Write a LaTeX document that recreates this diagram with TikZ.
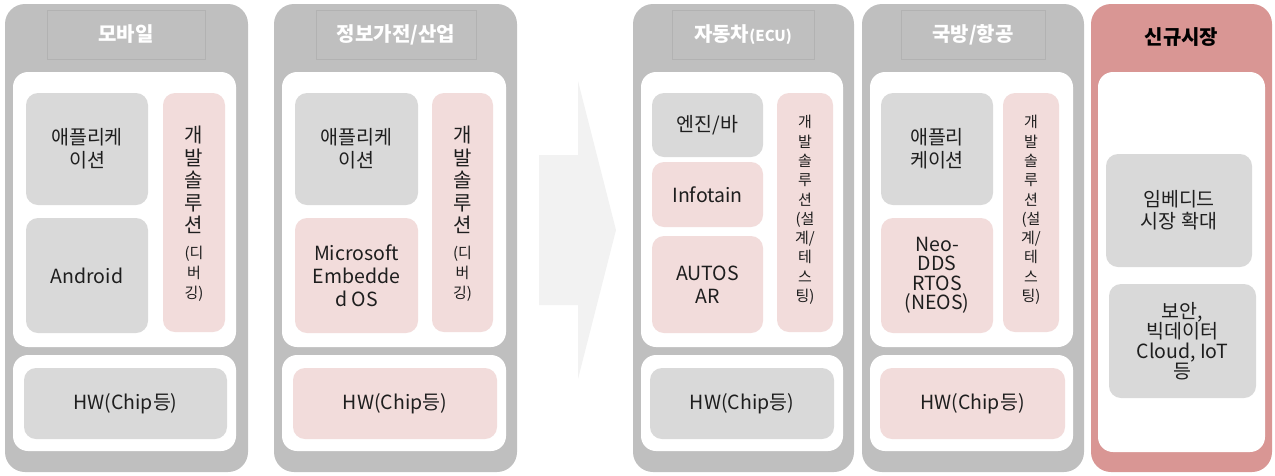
\documentclass[tikz,border=0pt]{standalone}
\usepackage{fontspec}
\setmainfont{Noto Sans CJK KR}
\definecolor{pgray}{HTML}{BFBFBF}
\definecolor{hborder}{HTML}{B2B2B2}
\definecolor{bgray}{HTML}{D9D9D9}
\definecolor{bpink}{HTML}{F2DCDB}
\definecolor{pred}{HTML}{D99694}
\definecolor{arrowc}{HTML}{F2F2F2}
\definecolor{txt}{HTML}{1E1E1E}
\newcommand\myMain{\fontsize{19.5}{23}\selectfont}
\newcommand\myTitle{\fontsize{20}{22}\selectfont\bfseries}
\newcommand\myBig{\fontsize{20}{22.5}\selectfont}
\newcommand\mySmall{\fontsize{15}{15}\selectfont}
\newcommand\myVert{\fontsize{15}{19.3}\selectfont}
\begin{document}
\begin{tikzpicture}[x=1pt,y=-1pt,
  sz/.style 2 args={minimum width=#1pt,minimum height=#2pt,inner sep=0pt,outer sep=0pt},
  panel/.style={fill=pgray,rounded corners=20pt},
  redpanel/.style={fill=pred,rounded corners=20pt},
  header/.style={fill=pgray,draw=hborder,line width=0.6pt,text=white,font=\myTitle},
  wbox/.style={fill=white,rounded corners=15pt},
  gbox/.style={fill=bgray,rounded corners=12pt,align=center,font=\myMain,text=txt},
  pbox/.style={fill=bpink,rounded corners=12pt,align=center,font=\myMain,text=txt},
  vtext/.style={align=center,text=txt,inner sep=0pt}
]
\useasboundingbox (0,0) rectangle (1275,475);

% ---------- Panel 1 : mobile ----------
\node[panel,sz={243}{468}] (p1) at (126.5,238) {};
\node[header,sz={158}{49}] (h1) at (126,34.5) {모바일};
\node[wbox,sz={223}{275}] (u1) at (124.5,209.5) {};
\node[gbox,sz={122}{112}] (a1) at (87,149) {애플리케\\이션};
\node[gbox,sz={122}{115}] (b1) at (87,275.5) {Android};
\node[pbox,sz={62}{239}] (d1) at (194,212.5) {};
\node[vtext,font=\myBig] (dt1) at (194,214) {개\\발\\솔\\루\\션\\[3.5pt]{\mySmall (디}\\[-2.5pt]{\mySmall 버}\\[-2.5pt]{\mySmall 깅)}};
\node[wbox,sz={223}{96}] (l1) at (124.5,403) {};
\node[gbox,sz={203}{71}] (hw1) at (125.5,403.5) {HW(Chip등)};

% ---------- Panel 2 : appliances / industry ----------
\node[panel,sz={243}{468}] (p2) at (395.5,238) {};
\node[header,sz={160}{49}] (h2) at (396,34.5) {정보가전/산업};
\node[wbox,sz={224}{275}] (u2) at (394,209.5) {};
\node[gbox,sz={123}{112}] (a2) at (356.5,149) {애플리케\\이션};
\node[pbox,sz={123}{115}] (b2) at (356.5,275.5) {Microsoft\\Embedde\\d OS};
\node[pbox,sz={61}{239}] (d2) at (462.5,212.5) {};
\node[vtext,font=\myBig] (dt2) at (462.5,214) {개\\발\\솔\\루\\션\\[3.5pt]{\mySmall (디}\\[-2.5pt]{\mySmall 버}\\[-2.5pt]{\mySmall 깅)}};
\node[wbox,sz={224}{96}] (l2) at (394,403) {};
\node[pbox,sz={204}{71}] (hw2) at (395,403.5) {HW(Chip등)};

% ---------- Arrow ----------
\fill[arrowc] (539,155) -- (578,155) -- (578,81) -- (616,230) -- (578,379) -- (578,305) -- (539,305) -- cycle;

% ---------- Panel 3 : automotive ----------
\node[panel,sz={221}{468}] (p3) at (743.5,238) {};
\node[header,sz={142}{49}] (h3) at (743,34.5) {자동차{\fontsize{15}{16}\selectfont\bfseries(ECU)}};
\node[wbox,sz={202}{275}] (u3) at (742,209.5) {};
\node[gbox,sz={111}{64}] (a3) at (707.5,125) {엔진/바};
\node[pbox,sz={111}{65}] (i3) at (707.5,194.5) {Infotain};
\node[pbox,sz={111}{97}] (s3) at (707.5,284.5) {AUTOS\\AR};
\node[pbox,sz={56}{239}] (d3) at (805,212.5) {};
\node[vtext,font=\myVert] (dt3) at (805,210) {개\\발\\솔\\루\\션\\(설\\계/\\테\\스\\팅)};
\node[wbox,sz={202}{96}] (l3) at (742,403) {};
\node[gbox,sz={184}{71}] (hw3) at (742,403.5) {HW(Chip등)};

% ---------- Panel 4 : defence / aerospace ----------
\node[panel,sz={222}{468}] (p4) at (973,238) {};
\node[header,sz={144}{49}] (h4) at (973,34.5) {국방/항공};
\node[wbox,sz={203}{275}] (u4) at (971.5,209.5) {};
\node[gbox,sz={112}{112}] (a4) at (937,149) {애플리\\케이션};
\node[pbox,sz={112}{115},font=\fontsize{19.5}{19.5}\selectfont] (n4) at (937,275.5) {Neo-\\DDS\\RTOS\\(NEOS)};
\node[pbox,sz={56}{239}] (d4) at (1031,212.5) {};
\node[vtext,font=\myVert] (dt4) at (1031,210) {개\\발\\솔\\루\\션\\(설\\계/\\테\\스\\팅)};
\node[wbox,sz={203}{96}] (l4) at (971.5,403) {};
\node[pbox,sz={185}{71}] (hw4) at (972.5,403.5) {HW(Chip등)};

% ---------- Panel 5 : new markets ----------
\node[redpanel,sz={181}{468}] (p5) at (1181.5,238) {};
\node[font=\myTitle,text=black,inner sep=0pt] (h5) at (1181.5,37) {신규시장};
\node[wbox,sz={167}{380}] (u5) at (1181.5,262) {};
\node[gbox,sz={146}{113},font=\fontsize{19.5}{22}\selectfont] (e5) at (1179,210.5) {임베디드\\시장 확대};
\node[gbox,sz={147}{114},font=\fontsize{19.5}{20}\selectfont] (c5) at (1182.5,341) {보안,\\빅데이터\\Cloud, IoT\\등};
\end{tikzpicture}
\end{document}
